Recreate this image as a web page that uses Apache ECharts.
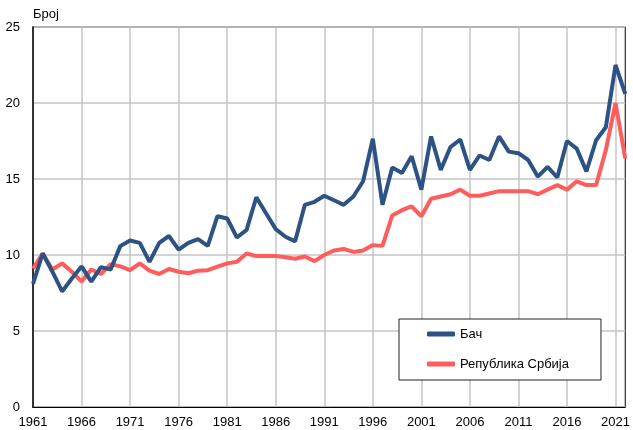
<!DOCTYPE html>
<html>
<head>
<meta charset="utf-8">
<script src="https://cdn.jsdelivr.net/npm/echarts@6/dist/echarts.min.js"></script>
<style>
html,body{margin:0;padding:0;background:#fff;}
#main{width:633px;height:430px;}
</style>
</head>
<body>
<div id="main"></div>
<script>
var years = [];
for (var y = 1961; y <= 2022; y++) years.push(String(y));

var bach_data = [8.1,10.1,8.9,7.6,8.45,9.25,8.25,9.2,9.05,10.6,
	10.95,10.8,9.55,10.8,11.25,10.35,10.8,11.05,10.6,12.55,
	12.4,11.15,11.65,13.8,12.75,11.7,11.2,10.9,13.3,13.5,
	13.9,13.6,13.3,13.85,14.85,17.65,13.3,15.75,15.4,16.5,
	14.3,17.8,15.6,17.1,17.6,15.6,16.55,16.25,17.8,16.8,
	16.7,16.25,15.15,15.8,15.1,17.5,17.0,15.5,17.55,18.4,
	22.5,20.6];

var srbija_data = [9.1,10.1,9.05,9.45,8.9,8.25,9.05,8.75,9.4,9.25,
	9.0,9.45,8.97,8.75,9.08,8.9,8.8,8.97,9.0,9.23,
	9.45,9.55,10.1,9.93,9.93,9.93,9.85,9.75,9.9,9.6,
	10.0,10.3,10.4,10.2,10.3,10.65,10.6,12.6,12.95,13.2,
	12.55,13.7,13.85,14.0,14.3,13.9,13.9,14.05,14.2,14.2,
	14.2,14.2,14.0,14.3,14.6,14.3,14.85,14.6,14.6,16.9,
	20.0,16.35];

var y_ticks = {min:0, max:25, interval:5};

var font_family = '"Liberation Sans", Arial, sans-serif';

var myChart = echarts.init(document.getElementById('main'));
myChart.setOption({
	animation: false,
	backgroundColor: '#fff',
	textStyle: {fontFamily: font_family},
	grid: {
		left: 33, right: 5, top: 27, bottom: 23,
		show: true, borderColor: '#000', borderWidth: 1,
		containLabel: false
	},
	legend: {
		orient: 'vertical',
		left: 399, top: 319,
		data: ['Бач', 'Република Србија'],
		icon: 'roundRect',
		backgroundColor: '#fff',
		borderColor: '#222', borderWidth: 1,
		padding: [8, 32, 9, 28],
		itemGap: 16,
		itemWidth: 28, itemHeight: 5,
		textStyle: {fontSize: 13, color: '#000', fontFamily: font_family, lineHeight: 14, height: 14}
	},
	xAxis: {
		type: 'category',
		data: years,
		boundaryGap: false,
		axisLine: {lineStyle: {color: '#000', width: 1}},
		axisTick: {show: false},
		axisLabel: {interval: 4, color: '#000', fontSize: 13, margin: 9, fontFamily: font_family},
		splitLine: {show: true, interval: 4, lineStyle: {color: '#c4c4c4', width: 1.5}}
	},
	yAxis: {
		type: 'value',
		min: y_ticks.min, max: y_ticks.max, interval: y_ticks.interval,
		name: 'Број',
		nameLocation: 'end',
		nameGap: 6,
		nameTextStyle: {align: 'left', fontSize: 13, color: '#000', fontFamily: font_family},
		axisLine: {show: true, lineStyle: {color: '#333', width: 2}},
		axisTick: {show: false},
		axisLabel: {color: '#000', fontSize: 13, margin: 13, fontFamily: font_family},
		splitLine: {show: true, lineStyle: {color: '#c4c4c4', width: 1.5}}
	},
	series: [
		{
			name: 'Бач',
			type: 'line',
			data: bach_data,
			symbol: 'none',
			color: '#2d5384',
			lineStyle: {width: 4, color: '#2d5384'},
			z: 3
		},
		{
			name: 'Република Србија',
			type: 'line',
			data: srbija_data,
			symbol: 'none',
			color: '#ff5c5c',
			lineStyle: {width: 4, color: '#ff5c5c'},
			z: 2
		}
	]
});
</script>
</body>
</html>
